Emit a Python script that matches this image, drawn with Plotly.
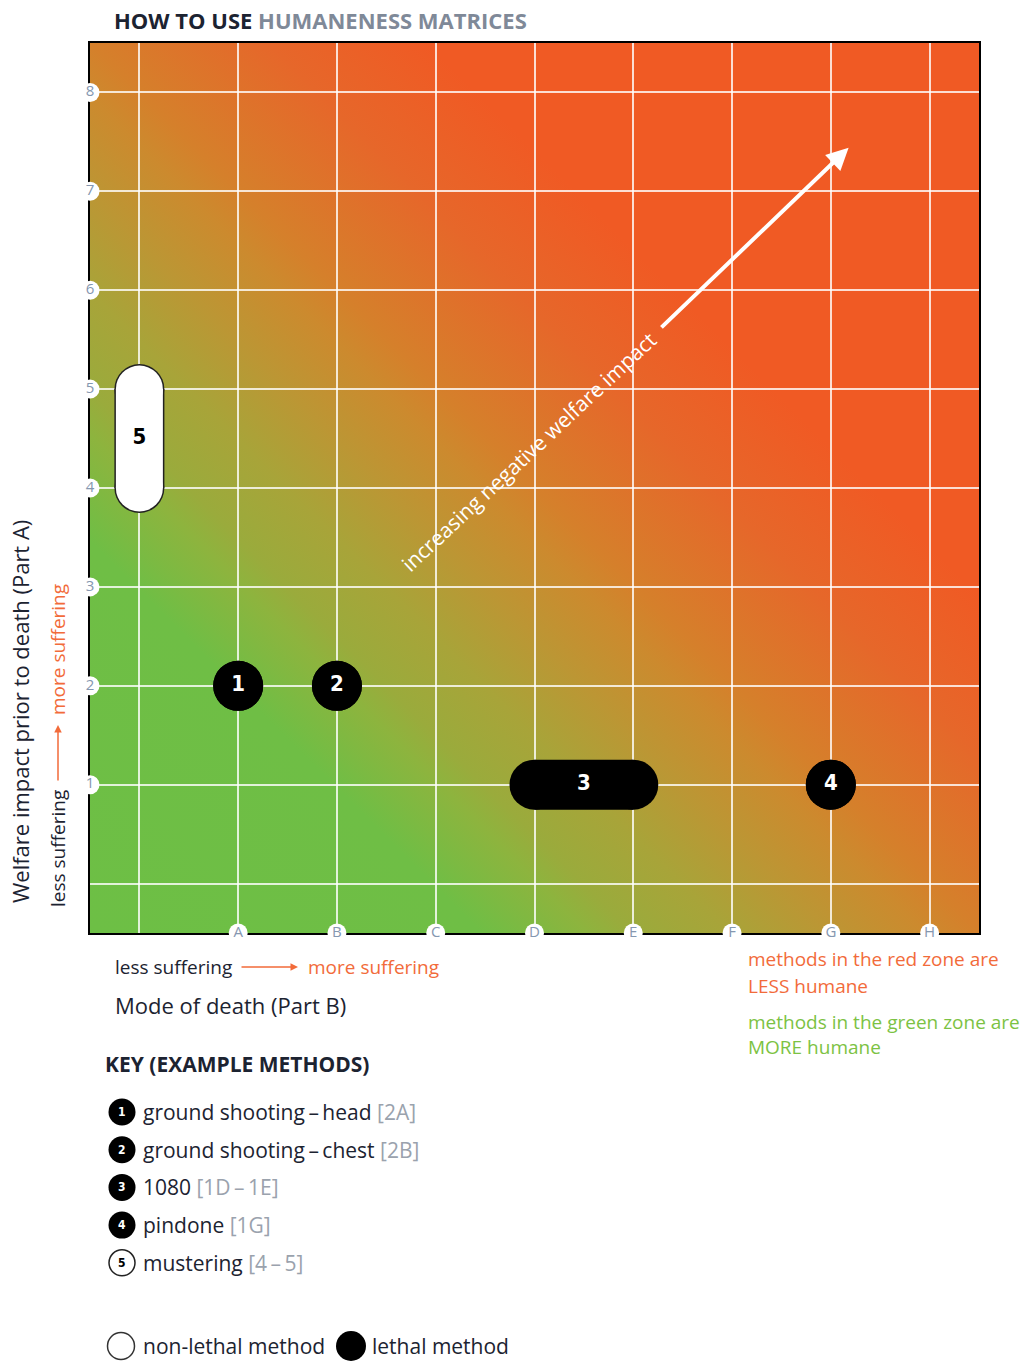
import base64
import plotly.graph_objects as go

# ---------------- data ----------------
x_labels = ["A", "B", "C", "D", "E", "F", "G", "H"]          # Mode of death (Part B)
y_labels = ["1", "2", "3", "4", "5", "6", "7", "8"]          # Welfare impact prior to death (Part A)

method_ids = ["1", "2", "3", "4", "5"]
method_names = ["ground shooting\u2009\u2013\u2009head", "ground shooting\u2009\u2013\u2009chest",
                "1080", "pindone", "mustering"]
method_codes = ["[2A]", "[2B]", "[1D\u2009\u2013\u20091E]", "[1G]", "[4\u2009\u2013\u20095]"]
part_b_from = ["A", "B", "D", "G", ""]   # "" = no mode of death (non-lethal)
part_b_to = ["A", "B", "E", "G", ""]
part_a_from = [2, 2, 1, 1, 4]
part_a_to = [2, 2, 1, 1, 5]
lethal = [True, True, True, True, False]

# ---------------- styles ----------------
FONT = "'Open Sans', 'Noto Sans', sans-serif"
NUMFONT = "'Liberation Sans Narrow', 'DejaVu Sans Condensed', 'Arial Narrow', sans-serif"
DARK = "#1c2331"
GREY = "#9aa2ad"
ORANGE = "#f26b3a"
GREEN = "#7cc243"

W, H = 1024, 1361
L, R, T, B = 90, 45, 43, 428
PW, PH = W - L - R, H - T - B


def px(x):
    return (x - L) / PW


def py(y):
    return (H - B - y) / PH


cols = [""] + x_labels


def col(c):
    return cols.index(c)


fig = go.Figure()

# ---- method markers (stadiums / circles) ----
D = 50
for i, mid in enumerate(method_ids):
    xs = [col(part_b_from[i]), col(part_b_to[i])]
    ys = [part_a_from[i], part_a_to[i]]
    if lethal[i]:
        layers = [("black", D)]
        tcol = "white"
    else:
        layers = [("#222222", D), ("white", D - 3)]
        tcol = "black"
    for color, size in layers:
        fig.add_trace(go.Scatter(
            x=xs, y=ys, mode="lines+markers",
            line=dict(color=color, width=size),
            marker=dict(color=color, size=size, line=dict(width=0)),
            hoverinfo="skip", cliponaxis=False))
    fig.add_trace(go.Scatter(
        x=[(xs[0] + xs[1]) / 2], y=[(ys[0] + ys[1]) / 2], mode="text",
        text=["<b>%s</b>" % mid], textposition="middle center",
        textfont=dict(family=NUMFONT, size=22, color=tcol),
        hoverinfo="skip", cliponaxis=False))

# ---- tick labels in white bubbles ----
fig.add_trace(go.Scatter(
    x=[-0.5] * len(y_labels), y=[int(v) for v in y_labels], mode="markers+text",
    text=y_labels, textposition="middle center",
    marker=dict(color="white", size=19, line=dict(width=0)),
    textfont=dict(family=FONT, size=15, color="#8597b0"),
    hoverinfo="skip", cliponaxis=False))
fig.add_trace(go.Scatter(
    x=[col(c) for c in x_labels], y=[-0.5] * len(x_labels), mode="markers+text",
    text=x_labels, textposition="middle center",
    marker=dict(color="white", size=19, line=dict(width=0)),
    textfont=dict(family=FONT, size=15, color="#8597b0"),
    hoverinfo="skip", cliponaxis=False))

# ---- gradient background ----
stops = [(0.0, "#6dbf45"), (0.22, "#6fbe45"), (0.28, "#8db43e"), (0.305, "#9aab3c"),
         (0.36, "#a8a439"), (0.417, "#bc9634"), (0.47, "#cc8a2e"), (0.5, "#d5802b"),
         (0.6, "#e6672a"), (0.69, "#f05a24"), (1.0, "#f05a24")]
stop_xml = "".join('<stop offset="%.3f" stop-color="%s"/>' % (o, c) for o, c in stops)
svg = ('<svg xmlns="http://www.w3.org/2000/svg" width="200" height="200" preserveAspectRatio="none">'
       '<defs><linearGradient id="g" x1="0" y1="1" x2="1" y2="0">%s</linearGradient></defs>'
       '<rect width="200" height="200" fill="url(#g)"/></svg>') % stop_xml
src = "data:image/svg+xml;base64," + base64.b64encode(svg.encode()).decode()

fig.add_layout_image(dict(source=src, xref="x", yref="y", x=-0.5, y=8.5, sizex=9, sizey=9,
                          xanchor="left", yanchor="top", sizing="stretch", layer="below"))

# ---- annotations & key shapes ----
ann = []
shapes = []


def text(x, y, s, size, color=DARK, xanchor="left", angle=0, family=FONT):
    ann.append(dict(x=px(x), y=py(y), xref="paper", yref="paper", text=s, showarrow=False,
                    xanchor=xanchor, yanchor="middle", textangle=angle,
                    font=dict(family=family, size=size, color=color)))


def dot(x, y, d, fill, outline=None):
    shapes.append(dict(type="circle", xref="paper", yref="paper", xsizemode="pixel",
                       ysizemode="pixel", xanchor=px(x), yanchor=py(y),
                       x0=-d / 2, x1=d / 2, y0=-d / 2, y1=d / 2, fillcolor=fill,
                       line=dict(color=outline or fill, width=1.5 if outline else 0),
                       layer="above"))


text(112, 20, "<b>HOW TO USE</b> <b><span style='color:#7f8998'>HUMANENESS MATRICES</span></b>", 22)

# y-axis titles
text(20, 712, "Welfare impact prior to death (Part A)", 22, xanchor="center", angle=-90)
text(58, 849, "less suffering", 19, xanchor="center", angle=-90)
text(58, 650, "more suffering", 19, color=ORANGE, xanchor="center", angle=-90)
ann.append(dict(x=px(58), y=py(725), xref="paper", yref="paper", ax=0, ay=57, showarrow=True,
                arrowhead=2, arrowsize=1, arrowwidth=1.5, arrowcolor=ORANGE, standoff=0, text=""))

# x-axis titles
text(113, 967, "less suffering", 19)
text(306, 967, "more suffering", 19, color=ORANGE)
ann.append(dict(x=px(298), y=py(967), xref="paper", yref="paper", ax=-58, ay=0, showarrow=True,
                arrowhead=2, arrowsize=1, arrowwidth=1.5, arrowcolor=ORANGE, standoff=0, text=""))
text(113, 1005, "Mode of death (Part B)", 22)

# zone notes
text(746, 959, "methods in the red zone are", 19, color=ORANGE)
text(746, 986, "LESS humane", 19, color=ORANGE)
text(746, 1022, "methods in the green zone are", 19, color=GREEN)
text(746, 1047, "MORE humane", 19, color=GREEN)

# key
key_x, key_y0, key_dy = 122, 1112, 37.7
text(103, 1064, "<b>KEY (EXAMPLE METHODS)</b>", 21)
for k in range(len(method_ids)):
    ky = key_y0 + k * key_dy
    if lethal[k]:
        dot(key_x, ky, 27, "black")
    else:
        dot(key_x, ky, 26, "white", "#222222")
    text(key_x, ky, "<b>%s</b>" % method_ids[k], 12, color="white" if lethal[k] else "black",
         xanchor="center", family=NUMFONT)
    text(141, ky, "%s <span style='color:%s'>%s</span>" % (method_names[k], GREY, method_codes[k]), 21)

leg_y = 1346
dot(121, leg_y, 27, "white", "#333333")
dot(351, leg_y, 30, "black")
text(141, leg_y, "non-lethal method", 21)
text(370, leg_y, "lethal method", 21)

# diagonal arrow + label
ann.append(dict(x=7.18, y=7.44, xref="x", yref="y", axref="x", ayref="y", ax=5.27, ay=5.61,
                showarrow=True, arrowhead=2, arrowsize=1.1, arrowwidth=4, arrowcolor="white",
                standoff=0, text=""))
ann.append(dict(x=3.94, y=4.36, xref="x", yref="y", text="increasing negative welfare impact",
                showarrow=False, textangle=-43, font=dict(family=FONT, size=21, color="white")))

fig.update_layout(
    width=W, height=H, margin=dict(l=L, r=R, t=T, b=B),
    paper_bgcolor="white", plot_bgcolor="white", showlegend=False,
    annotations=ann, shapes=shapes,
    xaxis=dict(range=[-0.5, 8.5], tickvals=list(range(0, 9)), showticklabels=False, ticks="",
               showgrid=True, gridcolor="rgba(255,255,255,0.8)", gridwidth=2, zeroline=False,
               showline=True, linecolor="black", linewidth=2, mirror=True, layer="below traces",
               fixedrange=True),
    yaxis=dict(range=[-0.5, 8.5], tickvals=list(range(0, 9)), showticklabels=False, ticks="",
               showgrid=True, gridcolor="rgba(255,255,255,0.8)", gridwidth=2, zeroline=False,
               showline=True, linecolor="black", linewidth=2, mirror=True, layer="below traces",
               fixedrange=True),
)

fig.write_html("out.html", post_script="document.body.style.margin='0';",
               config={"displayModeBar": False})
